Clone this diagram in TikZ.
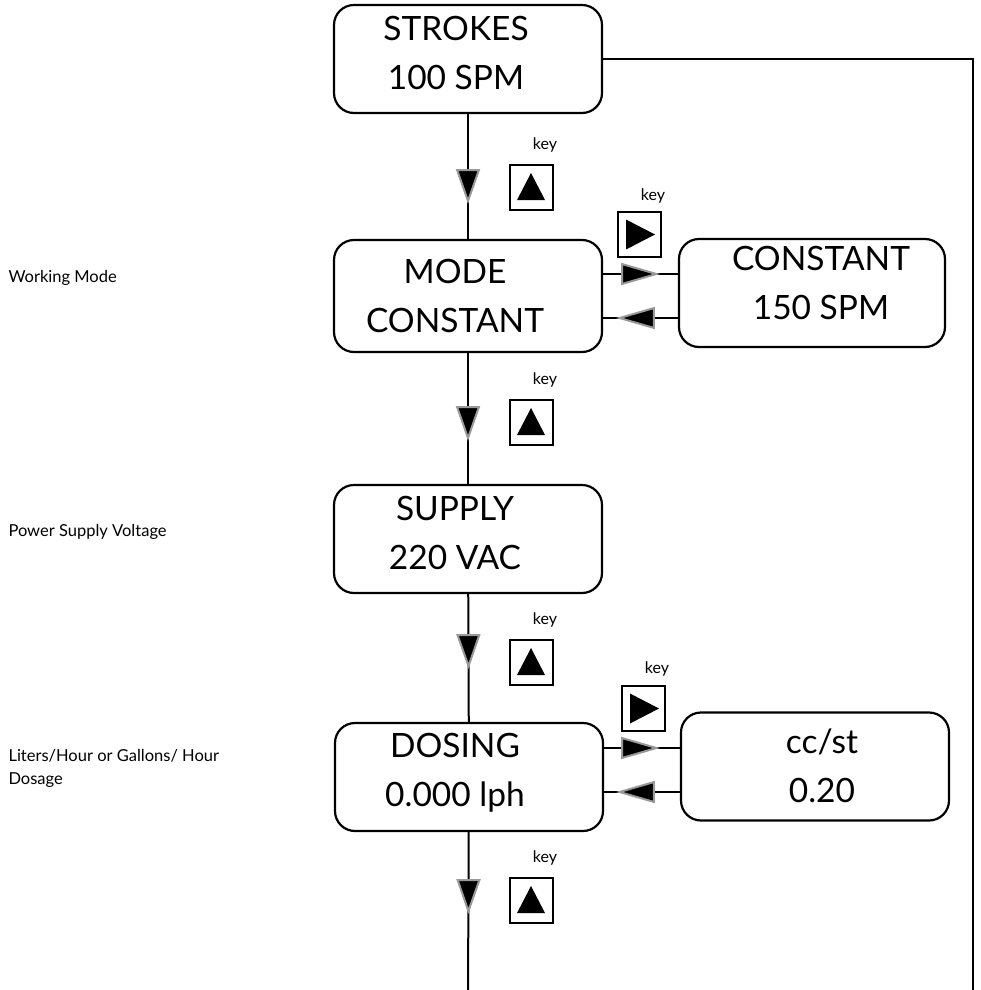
\documentclass[tikz,border=0pt]{standalone}
\usepackage{fontspec}
\setmainfont{Lato}
\usetikzlibrary{arrows.meta,decorations.markings,positioning}

\tikzset{
  display/.style={draw, line width=2.2pt, rounded corners=20pt, minimum width=268pt, minimum height=108pt},
  disptext/.style={align=center, font=\fontsize{33.5}{49}\selectfont},
  keybox/.style={draw, line width=2pt, minimum width=43pt, minimum height=45pt, inner sep=0pt},
  keylabel/.style={font=\fontsize{16}{18}\selectfont, anchor=base, xshift=14pt},
  note/.style={align=left, font=\fontsize{16.5}{23}\selectfont},
  wire/.style={line width=2pt},
  downtip/.tip={Triangle[width=24pt,length=35pt,fill=black,color=black!40,line width=2pt]},
  sidetip/.tip={Triangle[width=22pt,length=39pt,fill=black,color=black!40,line width=2pt]},
  flowdown/.style={wire, postaction={decorate,decoration={markings,mark=at position #1 with {\arrow{downtip}}}}},
  flowside/.style={wire, postaction={decorate,decoration={markings,mark=at position #1 with {\arrow{sidetip}}}}},
}

\begin{document}
\begin{tikzpicture}[x=1pt,y=-1pt]
  % we fix the page size
  \useasboundingbox (0,0) rectangle (981,990);

  % we place the display boxes
  \node[display] (strokes) at (468,59) {};
  \node[display, minimum height=112pt] (mode) at (468,296) {};
  \node[display, minimum width=266pt] (constant) at (812,293) {};
  \node[display] (supply) at (468,539) {};
  \node[display] (dosing) at (469,777) {};
  \node[display] (ccst) at (815,766.5) {};

  % we write the display texts
  \node[disptext] (strokes-txt) at (456,53) {STROKES\\100 SPM};
  \node[disptext] (mode-txt) at (455,296) {MODE\\CONSTANT};
  \node[disptext] (constant-txt) at (821,283) {CONSTANT\\150 SPM};
  \node[disptext] (supply-txt) at (455,533) {SUPPLY\\220 VAC};
  \node[disptext] (dosing-txt) at (455,773) {DOSING\\0.000 lph};
  \node[disptext] (ccst-txt) at (822,766) {cc/st\\0.20};

  % we draw the main flow downwards
  \coordinate (flow-end) at (468,990);
  \draw[flowdown=90pt] (strokes) -- (mode);
  \draw[flowdown=88pt] (mode) -- (supply);
  \draw[flowdown=75pt] (supply) -- (dosing);
  \draw[flowdown=82pt] (dosing) -- (flow-end);

  % we draw the side branches
  \coordinate (c-up) at ([yshift=19pt]constant.west);
  \coordinate (c-dn) at ([yshift=-25pt]constant.west);
  \draw[flowside=57pt] (mode.east |- c-up) -- (c-up);
  \draw[flowside=62pt] (c-dn) -- (mode.east |- c-dn);
  \coordinate (d-up) at ([yshift=18.5pt]ccst.west);
  \coordinate (d-dn) at ([yshift=-25.5pt]ccst.west);
  \draw[flowside=56pt] (dosing.east |- d-up) -- (d-up);
  \draw[flowside=64pt] (d-dn) -- (dosing.east |- d-dn);

  % we draw the return line on the right
  \coordinate (loop-end) at (973,990);
  \draw[wire] (strokes.east) -| (loop-end);

  % we add the keys
  \node[keybox] (key1) at (531,187) {};
  \node[keybox] (key2) at (531,422) {};
  \node[keybox] (key3) at (639,234.5) {};
  \node[keybox] (key4) at (531,662) {};
  \node[keybox] (key5) at (643,708.5) {};
  \node[keybox] (key6) at (531,900) {};
  \foreach \k in {key1,key2,key4,key6}
    \fill (\k.center) ++(-14,13) -- ++(28,0) -- ++(-14,-27) -- cycle;
  \foreach \k in {key3,key5}
    \fill (\k.center) ++(-13,-15) -- ++(0,30) -- ++(29,-15) -- cycle;

  \node[above=14pt of key1, keylabel] (key1-lbl) {key};
  \node[above=14pt of key2, keylabel] (key2-lbl) {key};
  \node[above=11pt of key3, keylabel] (key3-lbl) {key};
  \node[above=14pt of key4, keylabel] (key4-lbl) {key};
  \node[above=12pt of key5, keylabel] (key5-lbl) {key};
  \node[above=14pt of key6, keylabel] (key6-lbl) {key};

  % we add the notes on the left
  \node[note, anchor=base west] (note-mode) at (5,282) {Working Mode};
  \node[note, anchor=base west] (note-supply) at (5,536) {Power Supply Voltage};
  \node[note, anchor=west] (note-dosing) at (5,768) {Liters/Hour or Gallons/ Hour\\Dosage};
\end{tikzpicture}
\end{document}
